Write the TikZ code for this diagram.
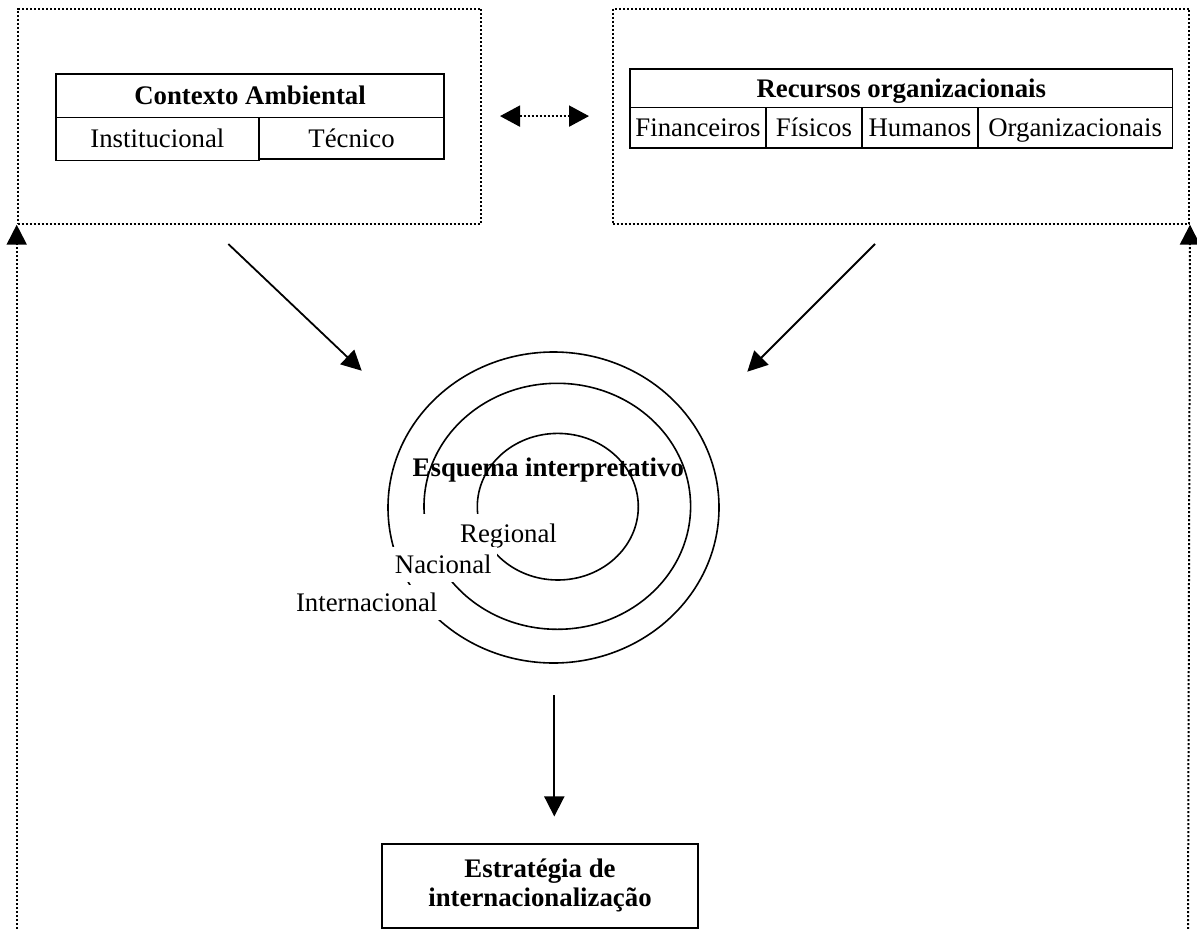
\documentclass[tikz,border=0pt]{standalone}
\usepackage{fontspec}
\setmainfont{Liberation Serif}
\usetikzlibrary{arrows.meta,shapes.geometric}
\begin{document}
\begin{tikzpicture}[x=1pt,y=-1pt,
  font=\fontsize{26.8}{29}\selectfont,
  boldtext/.style={font=\fontsize{26.8}{29}\selectfont\bfseries},
  solidline/.style={line width=1.8pt},
  dotline/.style={line width=2pt, dash pattern=on 2pt off 2pt},
  outerbox/.style={draw, dotline, inner sep=0pt, anchor=north west},
  cell/.style={draw, solidline, inner sep=0pt, anchor=north west, text height=17.7pt, text depth=0pt},
  ring/.style={draw, line width=1.6pt, ellipse, inner sep=0pt},
  lab/.style={fill=white, inner sep=0pt, text height=17.7pt, text depth=0pt},
  tip/.style={-{Triangle[length=20pt,width=20pt]}},
  dtip/.style={{Triangle[length=20pt,width=21pt]}-{Triangle[length=20pt,width=21pt]}},
]
\useasboundingbox (0,0) rectangle (1197,929);

% outer dotted boxes
\node[outerbox, minimum width=463.3pt, minimum height=215.2pt] (ctxbox) at (16.7,7.5) {};
\node[outerbox, minimum width=576.3pt, minimum height=215.2pt] (recbox) at (611.7,7.5) {};

% Contexto Ambiental table
\node[cell, boldtext, minimum width=388.3pt, minimum height=43.8pt] (ctxh) at (55,72.8) {Contexto Ambiental};
\node[cell, minimum width=203pt, minimum height=42.9pt] (ctxi) at (55,116.6) {Institucional};
\node[cell, minimum width=185.3pt, minimum height=41.4pt] (ctxt) at (258,116.6) {Técnico};

% Recursos organizacionais table
\node[cell, boldtext, minimum width=542.2pt, minimum height=38.6pt] (rech) at (629.3,68) {Recursos organizacionais};
\node[cell, minimum width=135.6pt, minimum height=40.8pt] (recf) at (629.3,106.6) {Financeiros};
\node[cell, minimum width=96.3pt, minimum height=40.8pt] (recp) at (764.9,106.6) {Físicos};
\node[cell, minimum width=115.8pt, minimum height=40.8pt] (recu) at (861.2,106.6) {Humanos};
\node[cell, minimum width=194.5pt, minimum height=40.8pt] (reco) at (977,106.6) {Organizacionais};

% rings
\node[ring, minimum width=331pt, minimum height=311pt] (outer) at (553.5,507.5) {};
\node[ring, minimum width=266.6pt, minimum height=246pt] (middle) at (557.3,506.3) {};
\node[ring, minimum width=161pt, minimum height=146.6pt] (inner) at (557.8,506.7) {};

% ring labels (white boxes cut the rings)
\node[lab, minimum width=181pt, minimum height=39pt] (reg) at (508.5,533.3) {Regional};
\node[lab, minimum width=106.6pt, minimum height=35pt] (nac) at (443.3,564.3) {Nacional};
\node[lab, minimum width=150pt, minimum height=35pt] (int) at (366.7,602.7) {Internacional};
\node[inner sep=0pt, anchor=base, boldtext] (esq) at (548.3,476.7) {Esquema interpretativo};

% strategy box
\node[draw, solidline, inner sep=0pt, minimum width=316.6pt, minimum height=84.3pt, boldtext] (strat) at (540,886.2)
  {\raisebox{3.5pt}{\begin{tabular}{@{}c@{}}Estratégia de\\internacionalização\end{tabular}}};

% connectors
\coordinate (lbot) at (16.7,929);
\coordinate (rbot) at (1188,929);
\draw[dotline, tip] (lbot) -- (ctxbox.south west);
\draw[dotline, tip] (rbot) -- (recbox.south east);
\draw[dotline, dtip, shorten <=18pt, shorten >=22.7pt] (ctxbox.east) -- (recbox.west);

\coordinate (d1s) at (228.3,244);
\coordinate (d1e) at (361.7,370.7);
\coordinate (d2s) at (875,244);
\coordinate (d2e) at (747.3,371.7);
\draw[solidline, tip] (d1s) -- (d1e);
\draw[solidline, tip] (d2s) -- (d2e);

\coordinate (vs) at (554.3,695);
\draw[solidline, tip, shorten >=26.7pt] (vs) -- (vs |- strat.north);
\end{tikzpicture}
\end{document}
